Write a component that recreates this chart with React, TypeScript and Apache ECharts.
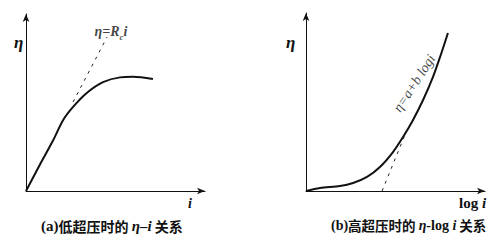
import React, { useEffect, useRef } from "react";
import * as echarts from "echarts";

// Panel (a): low overpotential, eta vs i
const curveA: [number, number][] = [
  [0, 0], [0.78, 1.5], [1.51, 2.85], [2.07, 4.0], [2.63, 4.75],
  [3.41, 5.55], [4.3, 6.15], [5.25, 6.42], [5.98, 6.45], [7.09, 6.33],
];
const tangentA: [number, number][] = [[2.63, 5.03], [4.53, 8.7]];
const labelA: [number, number][] = [[4.75, 9.0]];

// Panel (b): high overpotential, eta vs log i
const curveB: [number, number][] = [
  [0, 0], [0.78, 0.17], [1.9, 0.28], [2.63, 0.45], [3.41, 0.79],
  [4.13, 1.35], [4.86, 2.19], [5.42, 3.03], [5.98, 3.99], [6.54, 5.11],
  [7.09, 6.4], [7.49, 7.53], [7.93, 8.88],
];
const tangentB: [number, number][] = [[4.25, 0], [5.64, 3.43]];
const labelB: [number, number][] = [[6.05, 6.05]];

const SERIF = "Liberation Serif";
const CJK = "Noto Sans CJK SC";

const it = (size: number) => ({
  fontFamily: SERIF, fontStyle: "italic", fontWeight: "bold", fontSize: size, fill: "#111", color: "#111",
});
const rom = (size: number) => ({
  fontFamily: SERIF, fontStyle: "normal", fontWeight: "bold", fontSize: size, fill: "#111", color: "#111",
});
const cjk = (size: number) => ({
  fontFamily: CJK, fontStyle: "normal", fontWeight: "bold", fontSize: size, fill: "#111", color: "#111",
});

export default function App() {
  const ref = useRef<HTMLDivElement>(null);
  useEffect(() => {
    if (!ref.current) return;
    const chart = echarts.init(ref.current, undefined, { renderer: "svg" });
    const axisLine = {
      show: true,
      onZero: false,
      symbol: ["none", "arrow"],
      symbolSize: [5, 8],
      lineStyle: { color: "#111", width: 1 },
    };
    const axisBase = {
      type: "value" as const,
      min: 0,
      max: 10,
      axisLine,
      axisTick: { show: false },
      axisLabel: { show: false },
      splitLine: { show: false },
    };
    const solid = { color: "#111", width: 2 };
    const dashed = { color: "#222", width: 1, type: [3, 5] as any };
    chart.setOption({
      animation: false,
      backgroundColor: "#fff",
      grid: [
        { left: 18, top: 6, width: 179, height: 177 },
        { left: 298, top: 5, width: 179, height: 178 },
      ],
      xAxis: [
        { ...axisBase, gridIndex: 0 },
        { ...axisBase, gridIndex: 1 },
      ],
      yAxis: [
        { ...axisBase, gridIndex: 0 },
        { ...axisBase, gridIndex: 1 },
      ],
      series: [
        {
          type: "line", xAxisIndex: 0, yAxisIndex: 0, data: curveA,
          smooth: 0.3, showSymbol: false, lineStyle: solid,
        },
        {
          type: "line", xAxisIndex: 0, yAxisIndex: 0, data: tangentA,
          showSymbol: false, lineStyle: dashed,
        },
        {
          type: "scatter", xAxisIndex: 0, yAxisIndex: 0, data: labelA,
          symbolSize: 0,
          label: {
            show: true, position: "inside",
            formatter: "{a|η=R}{s|c}{a|i}",
            rich: {
              a: { ...it(14), verticalAlign: "bottom" },
              s: { ...it(9), verticalAlign: "bottom", padding: [0, 0, -3, 0] },
            },
          },
        },
        {
          type: "line", xAxisIndex: 1, yAxisIndex: 1, data: curveB,
          smooth: 0.3, showSymbol: false, lineStyle: solid,
        },
        {
          type: "line", xAxisIndex: 1, yAxisIndex: 1, data: tangentB,
          showSymbol: false, lineStyle: dashed,
        },
        {
          type: "scatter", xAxisIndex: 1, yAxisIndex: 1, data: labelB,
          symbolSize: 0,
          label: {
            show: true, position: "inside", rotate: 57,
            formatter: "η=a+b logi",
            ...it(14), fontWeight: "normal",
          },
        },
      ],
      graphic: [
        { type: "text", left: 6, top: 26, style: { text: "η", ...it(17) } },
        { type: "text", left: 180, top: 188, style: { text: "i", ...it(14) } },
        {
          type: "text", left: 33, top: 210,
          style: {
            text: "{r|(a)}{c|低超压时的 }{m|η–i}{c| 关系}",
            ...cjk(14),
            rich: { r: rom(15), c: cjk(14), m: it(15) },
          } as any,
        },
        { type: "text", left: 278, top: 26, style: { text: "η", ...it(17) } },
        {
          type: "text", left: 451, top: 187,
          style: {
            text: "{r|log }{m|i}",
            ...rom(14),
            rich: { r: rom(15), m: it(15) },
          } as any,
        },
        {
          type: "text", left: 323, top: 210,
          style: {
            text: "{r|(b)}{c|高超压时的 }{m|η}{r|-log }{m|i}{c| 关系}",
            ...cjk(14),
            rich: { r: rom(14), c: cjk(13.5), m: it(14) },
          } as any,
        },
      ],
    });
    return () => chart.dispose();
  }, []);
  return <div ref={ref} style={{ width: 487, height: 236 }} />;
}
